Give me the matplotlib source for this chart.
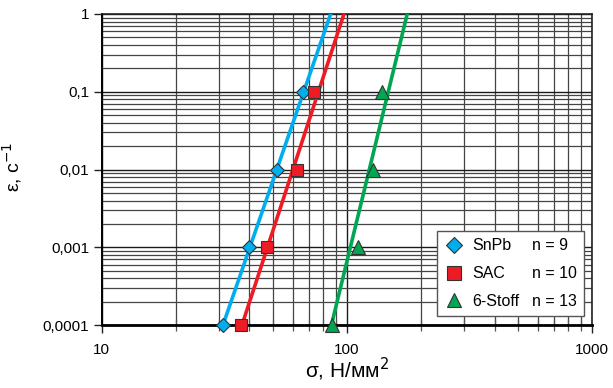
import matplotlib
matplotlib.use("Agg")
import matplotlib.pyplot as plt
from matplotlib.lines import Line2D
from matplotlib.ticker import FixedLocator, FixedFormatter, LogLocator, NullFormatter

plt.rcParams['font.family'] = ['Liberation Sans', 'DejaVu Sans']

# Messpunkte (Dehnrate über Spannung)
eps = [1e-4, 1e-3, 1e-2, 1e-1]
snpb_sigma = [31.2, 40.0, 52.0, 66.4]
sac_sigma = [37.0, 47.1, 62.7, 73.6]
stoff_sigma = [87.1, 110.6, 127.3, 138.5]

# Ausgleichsgeraden (Endpunkte bei eps = 1e-4 und 1)
fit_eps = [1e-4, 1.0]
snpb_fit = [31.2, 85.8]
sac_fit = [37.3, 97.2]
stoff_fit = [86.4, 176.1]

names = ['SnPb', 'SAC', '6-Stoff']
n_vals = ['n = 9', 'n = 10', 'n = 13']

y_ticks = [1e-4, 1e-3, 1e-2, 1e-1, 1]
y_labels = ['0,0001', '0,001', '0,01', '0,1', '1']
x_ticks = [10, 100, 1000]
x_labels = ['10', '100', '1000']

blue = '#00aeef'
red = '#ed1c24'
green = '#00a651'
edge = '#333333'

fig = plt.figure(figsize=(6.13, 3.88), dpi=100)
ax = fig.add_axes([0.166, 0.162, 0.800, 0.802])
ax.set_xscale('log')
ax.set_yscale('log')
ax.set_xlim(10, 1000)
ax.set_ylim(1e-4, 1)

# Gitter
ax.grid(True, which='major', color='#1a1a1a', linewidth=1.0)
ax.grid(True, which='minor', color='#444444', linewidth=0.9)
ax.set_axisbelow(True)

# Geraden
ax.plot(snpb_fit, fit_eps, color=blue, lw=2.6, zorder=3)
ax.plot(sac_fit, fit_eps, color=red, lw=2.6, zorder=3)
ax.plot(stoff_fit, fit_eps, color=green, lw=2.6, zorder=3)

# Punkte
ax.plot(snpb_sigma, eps, 'D', ms=6.8, mfc=blue, mec=edge, mew=0.8, ls='none', zorder=4, clip_on=False)
ax.plot(sac_sigma, eps, 's', ms=8.6, mfc=red, mec=edge, mew=0.8, ls='none', zorder=4, clip_on=False)
ax.plot(stoff_sigma, eps, '^', ms=9.4, mfc=green, mec=edge, mew=0.8, ls='none', zorder=4, clip_on=False)

ax.yaxis.set_major_locator(FixedLocator(y_ticks))
ax.yaxis.set_major_formatter(FixedFormatter(y_labels))
ax.yaxis.set_minor_locator(LogLocator(base=10, subs=range(2, 10)))
ax.yaxis.set_minor_formatter(NullFormatter())
ax.xaxis.set_major_locator(FixedLocator(x_ticks))
ax.xaxis.set_major_formatter(FixedFormatter(x_labels))
ax.xaxis.set_minor_locator(LogLocator(base=10, subs=range(2, 10)))
ax.xaxis.set_minor_formatter(NullFormatter())

ax.tick_params(axis='both', which='major', labelsize=11, direction='out', length=6, width=1.0, color='#222222')
ax.tick_params(axis='x', which='minor', direction='inout', length=8, width=0.9, color='#555555')
ax.tick_params(axis='y', which='minor', length=0)
ax.tick_params(axis='y', which='major', pad=3)
ax.tick_params(axis='x', which='major', pad=6.5)

for s in ['top', 'right']:
    ax.spines[s].set_linewidth(1.2)
    ax.spines[s].set_color('#222222')
ax.spines['left'].set_linewidth(1.4)
ax.spines['bottom'].set_linewidth(2.0)

ax.set_xlabel('σ, Н/мм$^2$', fontsize=15, labelpad=-0.5)
ax.set_ylabel('ε, с$^{-1}$', fontsize=14)
ax.yaxis.set_label_coords(-0.158, 0.51)

# Legende mit zweiter Spalte für n
handles = [
    Line2D([], [], marker='D', ms=8.5, mfc=blue, mec=edge, mew=0.8, ls='none'),
    Line2D([], [], marker='s', ms=9.5, mfc=red, mec=edge, mew=0.8, ls='none'),
    Line2D([], [], marker='^', ms=10.5, mfc=green, mec=edge, mew=0.8, ls='none'),
]
blank = [Line2D([], [], ls='none') for _ in n_vals]
leg = ax.legend(handles + blank, names + n_vals, ncol=2, loc='lower right',
                bbox_to_anchor=(0.983, 0.029), borderaxespad=0, fontsize=11.5,
                frameon=True, fancybox=False, framealpha=1, edgecolor='#555555',
                handlelength=1.2, handletextpad=0.52, columnspacing=-0.93,
                labelspacing=0.8, borderpad=0.45)
leg.get_frame().set_linewidth(1.0)
leg.set_zorder(5)

fig.savefig('out.png', dpi=100)
